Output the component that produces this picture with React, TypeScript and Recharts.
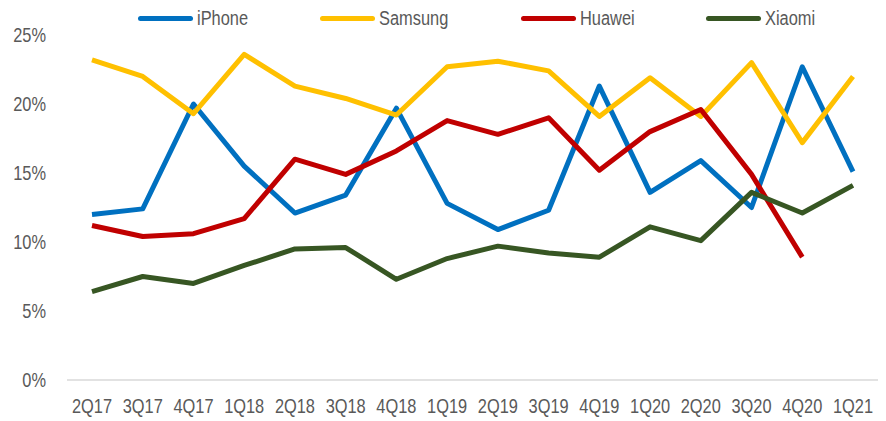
import { Line, LineChart, XAxis, YAxis } from "recharts";

const quarters = [
    "2Q17", "3Q17", "4Q17", "1Q18", "2Q18", "3Q18", "4Q18", "1Q19",
    "2Q19", "3Q19", "4Q19", "1Q20", "2Q20", "3Q20", "4Q20", "1Q21",
];

// market share, %
const iphone = [12.0, 12.4, 20.0, 15.5, 12.1, 13.4, 19.7, 12.8, 10.9, 12.3, 21.3, 13.6, 15.9, 12.5, 22.7, 15.1];
const samsung = [23.2, 22.0, 19.3, 23.6, 21.3, 20.4, 19.2, 22.7, 23.1, 22.4, 19.1, 21.9, 19.1, 23.0, 17.2, 22.0];
const huawei = [11.2, 10.4, 10.6, 11.7, 16.0, 14.9, 16.6, 18.8, 17.8, 19.0, 15.2, 18.0, 19.6, 14.9, 8.9, null];
const xiaomi = [6.4, 7.5, 7.0, 8.3, 9.5, 9.6, 7.3, 8.8, 9.7, 9.2, 8.9, 11.1, 10.1, 13.6, 12.1, 14.1];

const yTicks = [0, 5, 10, 15, 20, 25];

const series = [
    { key: "iPhone", color: "#0070C0", values: iphone },
    { key: "Samsung", color: "#FFC000", values: samsung },
    { key: "Huawei", color: "#C00000", values: huawei },
    { key: "Xiaomi", color: "#375623", values: xiaomi },
];

// left edge of each legend entry
const legendLeft = [138, 320, 521, 706];

const data = quarters.map((q, i) => {
    const row: Record<string, string | number | null> = { quarter: q };
    series.forEach((s) => {
        row[s.key] = s.values[i];
    });
    return row;
});

const font = "'Liberation Sans', Arial, sans-serif";
const textColor = "#595959";
const squeeze = 0.82; // the original text is narrow

const XTick = (props: any) => {
    const { x, y, payload } = props;
    return (
        <g transform={`translate(${x},${y}) scale(${squeeze},1)`}>
            <text textAnchor="middle" dy="0.71em" fill={textColor} fontSize={20} fontFamily={font}>
                {payload.value}
            </text>
        </g>
    );
};

const YTick = (props: any) => {
    const { x, y, payload } = props;
    return (
        <g transform={`translate(${x},${y}) scale(${squeeze},1)`}>
            <text textAnchor="end" dy="0.355em" fill={textColor} fontSize={20} fontFamily={font}>
                {`${payload.value}%`}
            </text>
        </g>
    );
};

const App = () => {
    return (
        <div style={{ position: "absolute", left: 0, top: 0, width: 886, height: 421, fontFamily: font }}>
            <LineChart
                width={886}
                height={421}
                data={data}
                margin={{ top: 35, right: 8, left: 0, bottom: 0 }}
            >
                <XAxis
                    dataKey="quarter"
                    height={41}
                    padding={{ left: 25, right: 25 }}
                    tickLine={false}
                    tickSize={0}
                    tickMargin={19}
                    axisLine={{ stroke: "#D9D9D9", strokeWidth: 1.5 }}
                    tick={<XTick />}
                    interval={0}
                />
                <YAxis
                    width={67}
                    domain={[0, 25]}
                    ticks={yTicks}
                    axisLine={false}
                    tickLine={false}
                    tickSize={0}
                    tickMargin={21}
                    tick={<YTick />}
                />
                {series.map((s) => (
                    <Line
                        key={s.key}
                        dataKey={s.key}
                        stroke={s.color}
                        strokeWidth={5}
                        strokeLinejoin="round"
                        dot={false}
                        activeDot={false}
                        isAnimationActive={false}
                    />
                ))}
            </LineChart>
            {series.map((s, i) => (
                <div
                    key={s.key}
                    style={{
                        position: "absolute",
                        top: 6,
                        left: legendLeft[i],
                        display: "flex",
                        alignItems: "center",
                        fontSize: 20,
                        color: textColor,
                        whiteSpace: "nowrap",
                    }}
                >
                    <span
                        style={{
                            display: "inline-block",
                            width: 55,
                            height: 5,
                            borderRadius: 3,
                            background: s.color,
                            marginRight: 4,
                        }}
                    />
                    <span
                        style={{
                            display: "inline-block",
                            lineHeight: "24px",
                            transform: `scaleX(${squeeze})`,
                            transformOrigin: "left center",
                        }}
                    >
                        {s.key}
                    </span>
                </div>
            ))}
        </div>
    );
};

export default App;
